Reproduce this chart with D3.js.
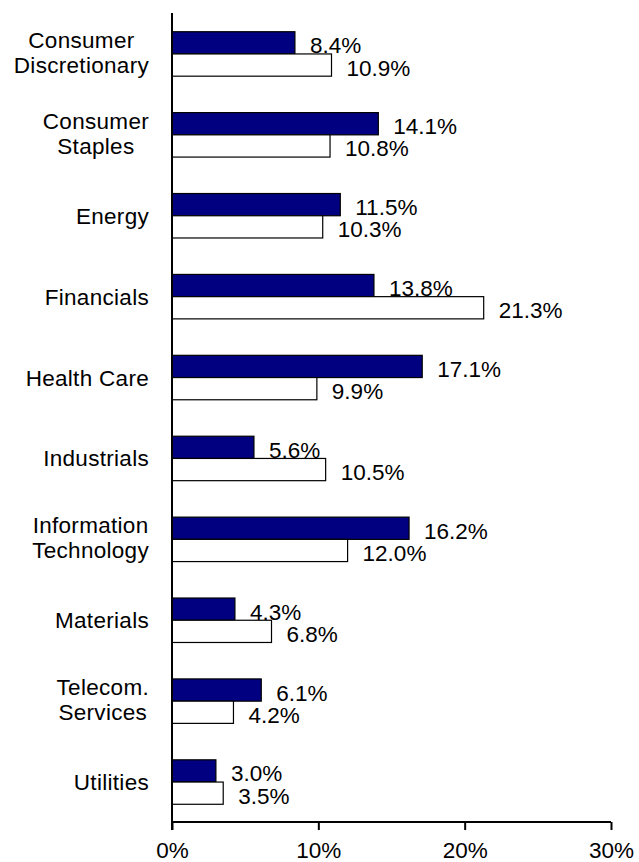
<!DOCTYPE html>
<html>
<head>
<meta charset="utf-8">
<script src="https://cdn.jsdelivr.net/npm/d3@7/dist/d3.min.js"></script>
<style>
  html, body { margin: 0; padding: 0; background: #fff; }
  svg { display: block; font-family: "Liberation Sans", Arial, sans-serif; }
</style>
</head>
<body>
<svg id="chart" width="639" height="862"></svg>
<script>
// Sector weights (%), two series per sector
const categories = [
  ["Consumer", "Discretionary"],
  ["Consumer", "Staples"],
  ["Energy"],
  ["Financials"],
  ["Health Care"],
  ["Industrials"],
  ["Information", "Technology"],
  ["Materials"],
  ["Telecom.", "Services"],
  ["Utilities"]
];
const seriesNames = ["Fund", "Index"];
const fundValues  = [8.4, 14.1, 11.5, 13.8, 17.1, 5.6, 16.2, 4.3, 6.1, 3.0];
const indexValues = [10.9, 10.8, 10.3, 21.3, 9.9, 10.5, 12.0, 6.8, 4.2, 3.5];
const tickValues  = [0, 10, 20, 30];
const tickLabels  = ["0%", "10%", "20%", "30%"];

const data = categories.map((lines, i) => ({
  key: lines.join(" "),
  lines,
  values: [fundValues[i], indexValues[i]]
}));

const svg = d3.select("#chart");
const plotLeft = 172, plotRight = 611, plotTop = 13, plotBottom = 822;
const fontSize = 22.5;

const x = d3.scaleLinear().domain([0, 30]).range([plotLeft, plotRight]);
const y = d3.scaleBand().domain(data.map(d => d.key)).range([plotTop, plotBottom]).padding(0);
const ySub = d3.scaleBand().domain(seriesNames).range([0, y.bandwidth()])
  .paddingInner(0).paddingOuter(0.82);

const fills = ["#000080", "#ffffff"];

// Bars
const groups = svg.append("g").selectAll("g").data(data).join("g")
  .attr("transform", d => `translate(0,${y(d.key) + 0.5})`);

groups.selectAll("rect").data(d => d.values.map((v, j) => ({ v, s: seriesNames[j], j })))
  .join("rect")
  .attr("x", x(0))
  .attr("y", d => ySub(d.s))
  .attr("width", d => x(d.v) - x(0))
  .attr("height", ySub.bandwidth())
  .attr("fill", d => fills[d.j])
  .attr("stroke", "#000")
  .attr("stroke-width", 1.2);

// Value labels
groups.selectAll("text.val").data(d => d.values.map((v, j) => ({ v, s: seriesNames[j] })))
  .join("text")
  .attr("class", "val")
  .attr("x", d => x(d.v) + 15)
  .attr("y", d => ySub(d.s) + ySub.bandwidth() / 2 + 10.5)
  .attr("font-size", fontSize)
  .attr("fill", "#000")
  .text(d => d.v.toFixed(1) + "%");

// Category labels: centered lines, block right-aligned to the axis
const labelRight = 149;
const catG = svg.append("g");
data.forEach(d => {
  const cy = y(d.key) + y.bandwidth() / 2;
  const baselines = d.lines.length === 2 ? [cy - 5.5, cy + 19.5] : [cy + 8.5];
  const texts = d.lines.map((line, k) => catG.append("text")
    .attr("y", baselines[k])
    .attr("font-size", fontSize)
    .attr("letter-spacing", 0.3)
    .attr("text-anchor", "middle")
    .attr("fill", "#000")
    .text(line));
  const w = d3.max(texts, t => t.node().getComputedTextLength());
  texts.forEach(t => t.attr("x", labelRight - w / 2));
});

// X axis
const xAxis = d3.axisBottom(x)
  .tickValues(tickValues)
  .tickFormat((d, i) => tickLabels[i])
  .tickSize(8)
  .tickPadding(12);
const gx = svg.append("g")
  .attr("transform", `translate(0,${plotBottom})`)
  .call(xAxis);
gx.select(".domain").attr("stroke", "#000").attr("stroke-width", 2)
  .attr("d", `M${plotLeft},0H${plotRight}`);
gx.selectAll(".tick line").attr("stroke", "#000").attr("stroke-width", 2);
gx.selectAll(".tick text")
  .attr("font-size", fontSize)
  .attr("font-family", "Liberation Sans, Arial, sans-serif")
  .attr("fill", "#000");

// Y axis line
svg.append("line")
  .attr("x1", plotLeft).attr("x2", plotLeft)
  .attr("y1", plotTop).attr("y2", plotBottom + 8)
  .attr("stroke", "#000").attr("stroke-width", 2);
</script>
</body>
</html>
